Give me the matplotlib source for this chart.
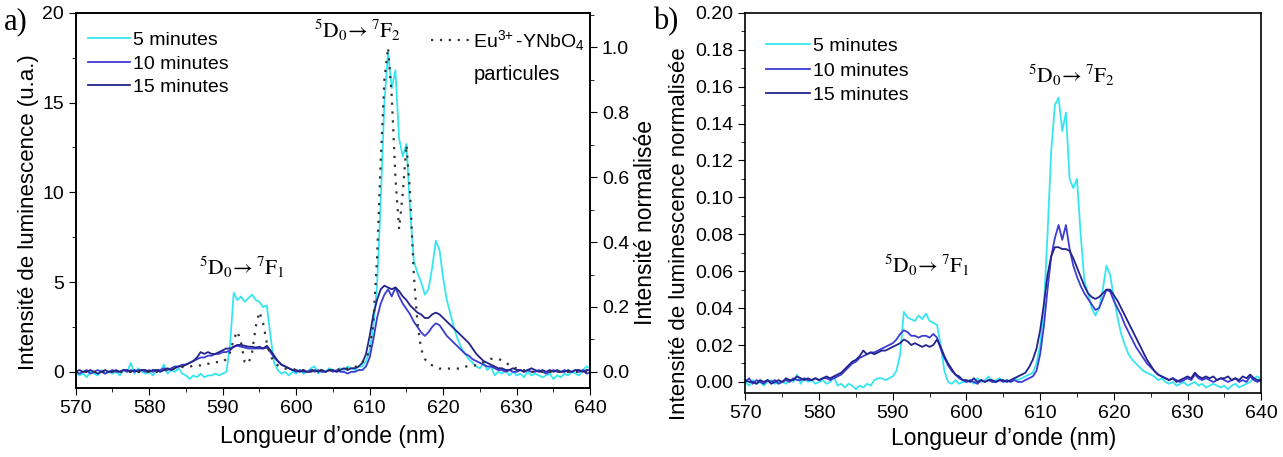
import numpy as np
import matplotlib
matplotlib.use('Agg')
import matplotlib.pyplot as plt
from matplotlib.ticker import MultipleLocator

plt.rcParams['font.family'] = ['Liberation Sans', 'DejaVu Sans']
plt.rcParams['mathtext.fontset'] = 'custom'
plt.rcParams['mathtext.rm'] = 'Liberation Sans'
plt.rcParams['mathtext.it'] = 'Liberation Sans'

# wavelength grid (nm), 0.5 nm step
wl = np.arange(570, 640.01, 0.5)

# panel a) luminescence intensity (u.a.)
a_5min = [
    0.0, -0.2, -0.1, -0.3, 0.0, -0.1, -0.2, 0.1, -0.1, 0.0,
    -0.1, 0.0, -0.2, 0.1, 0.0, 0.5, -0.1, 0.2, 0.0, -0.1,
    0.0, -0.2, 0.1, 0.0, 0.4, -0.1, 0.1, 0.0, 0.2, -0.1,
    -0.2, -0.4, -0.2, -0.3, -0.1, -0.3, -0.2, -0.2, -0.1, -0.2,
    -0.1, 0.0, 1.5, 4.4, 4.0, 4.2, 3.9, 4.1, 4.3, 4.0,
    3.9, 3.6, 3.7, 2.0, 0.5, 0.1, -0.1, 0.0, -0.2, 0.0,
    -0.1, 0.1, -0.1, 0.0, 0.2, 0.3, -0.1, 0.1, 0.0, 0.2,
    0.1, 0.0, 0.2, 0.1, 0.3, 0.2, 0.1, 0.3, 0.3, 0.6,
    1.2, 2.5, 4.8, 9.5, 15.0, 17.8, 15.8, 16.8, 13.0, 12.0,
    12.7, 9.0, 6.2, 5.5, 5.0, 4.3, 4.6, 5.8, 7.3, 6.8,
    5.2, 4.0, 3.2, 2.4, 1.8, 1.3, 1.0, 0.7, 0.5, 0.3,
    0.2, 0.5, 0.1, 0.3, -0.2, 0.0, -0.1, 0.1, -0.2, 0.0,
    -0.2, -0.1, -0.3, 0.0, -0.2, -0.1, -0.2, -0.3, -0.2, -0.1,
    -0.4, -0.2, -0.3, -0.1, -0.2, 0.0, -0.1, -0.2, 0.1, 0.3,
    0.2]
a_10min = [
    0.0, -0.1, 0.0, 0.1, -0.1, 0.0, 0.1, 0.0, -0.1, 0.0,
    0.1, 0.0, 0.0, 0.1, 0.0, 0.1, 0.0, 0.1, 0.1, 0.0,
    0.1, 0.0, 0.1, 0.1, 0.2, 0.1, 0.2, 0.3, 0.3, 0.4,
    0.4, 0.5, 0.6, 0.7, 0.8, 0.8, 0.9, 0.9, 1.0, 1.0,
    1.1, 1.1, 1.2, 1.4, 1.45, 1.4, 1.35, 1.3, 1.3, 1.3,
    1.3, 1.3, 1.35, 1.1, 0.8, 0.6, 0.4, 0.3, 0.2, 0.1,
    0.0, 0.1, 0.0, 0.0, 0.1, 0.0, 0.1, 0.0, 0.0, 0.1,
    0.0, 0.1, 0.0, 0.0, -0.1, 0.0, 0.0, 0.1, 0.1, 0.3,
    0.8, 1.8, 3.0, 3.8, 4.3, 4.6, 4.2, 4.7, 4.2, 3.8,
    3.5, 3.2, 2.8, 2.5, 2.2, 2.0, 2.2, 2.5, 2.7, 2.6,
    2.3, 2.0, 1.8, 1.6, 1.4, 1.2, 1.0, 0.9, 0.7, 0.6,
    0.5, 0.4, 0.3, 0.3, 0.2, 0.1, 0.1, 0.0, 0.1, 0.0,
    0.0, 0.1, 0.0, 0.1, 0.0, 0.0, 0.1, 0.0, -0.1, 0.0,
    0.1, 0.0, 0.0, 0.1, 0.0, 0.0, 0.1, 0.0, 0.1, -0.1,
    0.0]
a_15min = [
    0.0, 0.1, 0.0, 0.0, 0.1, 0.0, -0.1, 0.0, 0.1, 0.0,
    0.0, 0.1, 0.0, 0.1, 0.1, 0.0, 0.1, 0.0, 0.1, 0.1,
    0.0, 0.1, 0.1, 0.0, 0.1, 0.2, 0.1, 0.2, 0.3, 0.3,
    0.4, 0.5, 0.6, 0.8, 1.1, 1.0, 1.1, 1.0, 1.0, 1.1,
    1.2, 1.3, 1.3, 1.4, 1.5, 1.5, 1.45, 1.4, 1.4, 1.35,
    1.4, 1.3, 1.45, 1.2, 0.9, 0.6, 0.4, 0.3, 0.2, 0.1,
    0.1, 0.0, 0.1, 0.0, 0.0, 0.1, 0.0, 0.1, 0.0, 0.1,
    0.1, 0.0, 0.1, 0.2, 0.1, 0.2, 0.2, 0.3, 0.5, 1.0,
    2.0, 3.2, 4.0, 4.6, 4.8, 4.7, 4.6, 4.7, 4.5, 4.2,
    4.0, 3.7, 3.5, 3.3, 3.2, 3.0, 3.0, 3.2, 3.3, 3.2,
    3.0, 2.8, 2.6, 2.4, 2.2, 2.0, 1.8, 1.6, 1.3, 1.0,
    0.8, 0.6, 0.5, 0.4, 0.3, 0.2, 0.2, 0.1, 0.1, 0.2,
    0.1, 0.1, 0.0, 0.1, 0.2, 0.1, 0.0, 0.1, 0.0, 0.1,
    0.0, 0.1, 0.0, 0.0, 0.1, 0.0, 0.1, 0.1, 0.0, 0.1,
    0.1]
# Eu3+-YNbO4 particles, normalised (right axis)
a_particles = [
    0.0, 0.0, 0.0, 0.0, 0.0, 0.0, 0.0, 0.0, 0.0, 0.0,
    0.0, 0.0, 0.0, 0.0, 0.0, 0.0, 0.0, 0.0, 0.0, 0.0,
    0.0, 0.0, 0.0, 0.0, 0.005, 0.005, 0.01, 0.01, 0.01, 0.015,
    0.015, 0.015, 0.02, 0.02, 0.02, 0.025, 0.025, 0.025, 0.03, 0.03,
    0.03, 0.04, 0.06, 0.10, 0.125, 0.09, 0.03, 0.025, 0.06, 0.14,
    0.185, 0.15, 0.09, 0.05, 0.03, 0.02, 0.015, 0.01, 0.01, 0.01,
    0.005, 0.005, 0.005, 0.005, 0.005, 0.005, 0.005, 0.005, 0.005, 0.005,
    0.005, 0.005, 0.01, 0.01, 0.01, 0.015, 0.015, 0.02, 0.03, 0.04,
    0.07, 0.15, 0.35, 0.65, 0.9, 1.0, 0.85, 0.6, 0.44, 0.55,
    0.7, 0.55, 0.3, 0.15, 0.07, 0.04, 0.025, 0.02, 0.015, 0.01,
    0.01, 0.01, 0.01, 0.01, 0.01, 0.01, 0.015, 0.02, 0.02, 0.02,
    0.025, 0.03, 0.035, 0.04, 0.04, 0.04, 0.035, 0.03, 0.02, 0.015,
    0.01, 0.005, 0.005, 0.0, 0.0, 0.0, 0.0, 0.0, 0.0, 0.0,
    0.0, 0.0, 0.0, 0.0, 0.0, 0.0, 0.0, 0.0, 0.0, 0.0,
    0.0]

# panel b) normalised luminescence intensity
b_5min = [
    0.000, -0.002, 0.001, -0.001, 0.000, -0.002, 0.000, 0.001, -0.001, 0.000,
    0.000, -0.001, 0.001, 0.000, 0.004, -0.001, 0.002, 0.000, 0.001, -0.001,
    0.000, 0.001, -0.001, 0.000, 0.003, -0.002, -0.001, -0.003, -0.001, -0.002,
    -0.004, -0.002, -0.003, -0.001, -0.002, 0.001, 0.002, 0.002, 0.001, 0.002,
    0.003, 0.006, 0.015, 0.038, 0.035, 0.034, 0.033, 0.036, 0.034, 0.037,
    0.033, 0.032, 0.031, 0.020, 0.006, 0.000, -0.001, 0.001, -0.001, 0.000,
    0.000, 0.001, -0.001, 0.002, 0.000, 0.001, 0.003, 0.000, 0.001, 0.002,
    0.000, 0.001, 0.000, 0.002, 0.001, 0.002, 0.003, 0.004, 0.005, 0.010,
    0.020, 0.040, 0.080, 0.125, 0.150, 0.154, 0.136, 0.146, 0.110, 0.105,
    0.110, 0.080, 0.055, 0.048, 0.040, 0.036, 0.040, 0.050, 0.063, 0.058,
    0.046, 0.035, 0.026, 0.020, 0.015, 0.012, 0.010, 0.008, 0.006, 0.005,
    0.004, 0.003, 0.001, 0.002, 0.000, -0.001, 0.000, -0.002, -0.001, 0.000,
    -0.002, -0.001, 0.000, -0.002, -0.001, -0.003, -0.002, -0.001, -0.002, -0.003,
    -0.002, -0.004, -0.002, -0.001, -0.003, -0.002, -0.001, 0.000, 0.002, 0.003,
    0.001]
b_10min = [
    0.000, 0.002, -0.001, 0.001, 0.000, -0.001, 0.001, 0.000, 0.001, -0.001,
    0.000, 0.001, 0.000, 0.002, 0.001, 0.001, 0.002, 0.001, 0.001, 0.002,
    0.001, 0.002, 0.002, 0.001, 0.002, 0.003, 0.004, 0.006, 0.008, 0.010,
    0.011, 0.013, 0.014, 0.015, 0.016, 0.016, 0.017, 0.018, 0.019, 0.020,
    0.021, 0.023, 0.026, 0.028, 0.027, 0.025, 0.025, 0.024, 0.025, 0.025,
    0.024, 0.026, 0.024, 0.018, 0.013, 0.009, 0.006, 0.004, 0.002, 0.001,
    0.000, 0.001, 0.000, -0.001, 0.001, 0.000, 0.001, 0.000, 0.000, 0.001,
    0.000, 0.001, 0.000, 0.001, 0.000, 0.000, 0.001, 0.002, 0.003, 0.006,
    0.015, 0.030, 0.050, 0.068, 0.078, 0.085, 0.077, 0.085, 0.072, 0.063,
    0.057, 0.052, 0.048, 0.045, 0.042, 0.039, 0.040, 0.045, 0.050, 0.049,
    0.044, 0.040, 0.036, 0.031, 0.027, 0.023, 0.019, 0.016, 0.013, 0.010,
    0.008, 0.006, 0.004, 0.003, 0.002, 0.001, 0.002, 0.001, 0.000, 0.001,
    0.002, 0.001, 0.004, 0.002, 0.001, 0.002, 0.001, 0.000, 0.001, 0.002,
    0.001, 0.000, 0.001, 0.002, 0.000, 0.001, 0.000, 0.003, 0.001, 0.000,
    0.001]
b_15min = [
    0.001, 0.000, 0.000, -0.001, 0.001, 0.000, 0.001, -0.001, 0.000, 0.001,
    0.000, 0.002, 0.001, 0.001, 0.003, 0.002, 0.001, 0.002, 0.001, 0.002,
    0.001, 0.002, 0.003, 0.002, 0.003, 0.004, 0.005, 0.007, 0.009, 0.011,
    0.012, 0.014, 0.017, 0.015, 0.016, 0.015, 0.016, 0.017, 0.017, 0.018,
    0.019, 0.020, 0.021, 0.023, 0.022, 0.020, 0.021, 0.020, 0.019, 0.020,
    0.019, 0.020, 0.023, 0.019, 0.014, 0.010, 0.007, 0.004, 0.003, 0.001,
    0.001, 0.000, 0.002, 0.000, 0.001, 0.000, 0.001, 0.001, 0.000, 0.001,
    0.001, 0.000, 0.001, 0.002, 0.003, 0.004, 0.005, 0.008, 0.012, 0.018,
    0.028, 0.042, 0.058, 0.068, 0.073, 0.073, 0.072, 0.072, 0.071, 0.067,
    0.062, 0.057, 0.052, 0.048, 0.046, 0.045, 0.046, 0.048, 0.050, 0.050,
    0.047, 0.044, 0.040, 0.036, 0.032, 0.028, 0.024, 0.020, 0.016, 0.012,
    0.009, 0.006, 0.004, 0.003, 0.002, 0.001, 0.002, 0.000, 0.001, 0.002,
    0.003, 0.002, 0.005, 0.003, 0.002, 0.003, 0.002, 0.003, 0.001, 0.002,
    0.002, 0.003, 0.001, 0.002, 0.001, 0.003, 0.002, 0.004, 0.002, 0.001,
    0.001]

labels = ['5 minutes', '10 minutes', '15 minutes']
colors = ['#35e6f0', '#3c3cd4', '#23238c']

fig = plt.figure(figsize=(12.83, 4.57), dpi=100)
ax1 = fig.add_axes([0.059, 0.151, 0.401, 0.821])
ax2 = ax1.twinx()
ax3 = fig.add_axes([0.581, 0.140, 0.402, 0.832])

# --- panel a ---
for ys, lab, c in zip([a_5min, a_10min, a_15min], labels, colors):
    ax1.plot(wl, ys, color=c, lw=1.3, label=lab)
ax2.plot(wl, a_particles, color='#333333', lw=1.6, ls=(0, (1, 3)),
         label='Eu$^{3\!+}$-YNbO$_4$')

ax1.set_xlim(570, 640)
ax1.set_ylim(-0.9, 20)
ax2.set_ylim(-0.9 / 18.07, 20 / 18.07)
ax1.xaxis.set_major_locator(MultipleLocator(10))
ax1.xaxis.set_minor_locator(MultipleLocator(5))
ax1.yaxis.set_major_locator(MultipleLocator(5))
ax1.yaxis.set_minor_locator(MultipleLocator(2.5))
ax2.yaxis.set_major_locator(MultipleLocator(0.2))
ax2.yaxis.set_minor_locator(MultipleLocator(0.1))
ax2.yaxis.set_major_formatter(plt.FuncFormatter(lambda v, p: f'{v:.1f}'))
ax1.set_xlabel("Longueur d’onde (nm)", fontsize=16.5, labelpad=6)
ax1.set_ylabel('Intensité de luminescence (u.a.)', fontsize=16)
ax1.yaxis.set_label_coords(-0.072, 0.47)
ax2.set_ylabel('Intensité normalisée', fontsize=16.5)
ax2.yaxis.set_label_coords(1.085, 0.44)

ax1.legend(loc='upper left', frameon=False, fontsize=14, handlelength=2.2,
           handletextpad=0.15, labelspacing=0.3, borderaxespad=0,
           borderpad=0, bbox_to_anchor=(0.023, 0.95))
ax2.legend(loc='upper right', frameon=False, fontsize=14, handlelength=2.0,
           handletextpad=0.2, borderaxespad=0, borderpad=0,
           bbox_to_anchor=(0.99, 0.96))
ax1.text(0.858, 0.835, 'particules', transform=ax1.transAxes, fontsize=14.5,
         ha='center', va='center')

trans = r'$^{5}\mathrm{D}_{0}\!\rightarrow{}^{7}\mathrm{F}_{%d}$'
tkw = dict(fontsize=15.5, ha='center', va='center', math_fontfamily='stix')
ax1.text(608.3, 19.0, trans % 2, **tkw)
ax1.text(592.6, 5.8, trans % 1, **tkw)

# --- panel b ---
for ys, lab, c in zip([b_5min, b_10min, b_15min], labels, colors):
    ax3.plot(wl, ys, color=c, lw=1.3, label=lab)
ax3.set_xlim(570, 640)
ax3.set_ylim(-0.006, 0.2)
ax3.xaxis.set_major_locator(MultipleLocator(10))
ax3.xaxis.set_minor_locator(MultipleLocator(5))
ax3.yaxis.set_major_locator(MultipleLocator(0.02))
ax3.yaxis.set_minor_locator(MultipleLocator(0.01))
ax3.yaxis.set_major_formatter(plt.FuncFormatter(lambda v, p: f'{v:.2f}'))
ax3.set_xlabel("Longueur d’onde (nm)", fontsize=16.5, labelpad=4)
ax3.set_ylabel('Intensité de luminescence normalisée', fontsize=16)
ax3.yaxis.set_label_coords(-0.107, 0.42)
ax3.legend(loc='upper left', frameon=False, fontsize=14, handlelength=2.3,
           handletextpad=0.15, labelspacing=0.35, borderaxespad=0,
           borderpad=0, bbox_to_anchor=(0.039, 0.935))
ax3.text(614.2, 0.166, trans % 2, **tkw)
ax3.text(594.6, 0.063, trans % 1, **tkw)

for ax in (ax1, ax2, ax3):
    ax.tick_params(which='both', direction='out', labelsize=14)
    ax.tick_params(which='major', length=5)
    ax.tick_params(which='minor', length=3)
    for s in ax.spines.values():
        s.set_linewidth(1.2)

fig.text(0.003, 0.985, 'a)', fontsize=22, family='Liberation Serif', va='top')
fig.text(0.509, 0.985, 'b)', fontsize=22, family='Liberation Serif', va='top')

fig.savefig('out.png', dpi=100)
